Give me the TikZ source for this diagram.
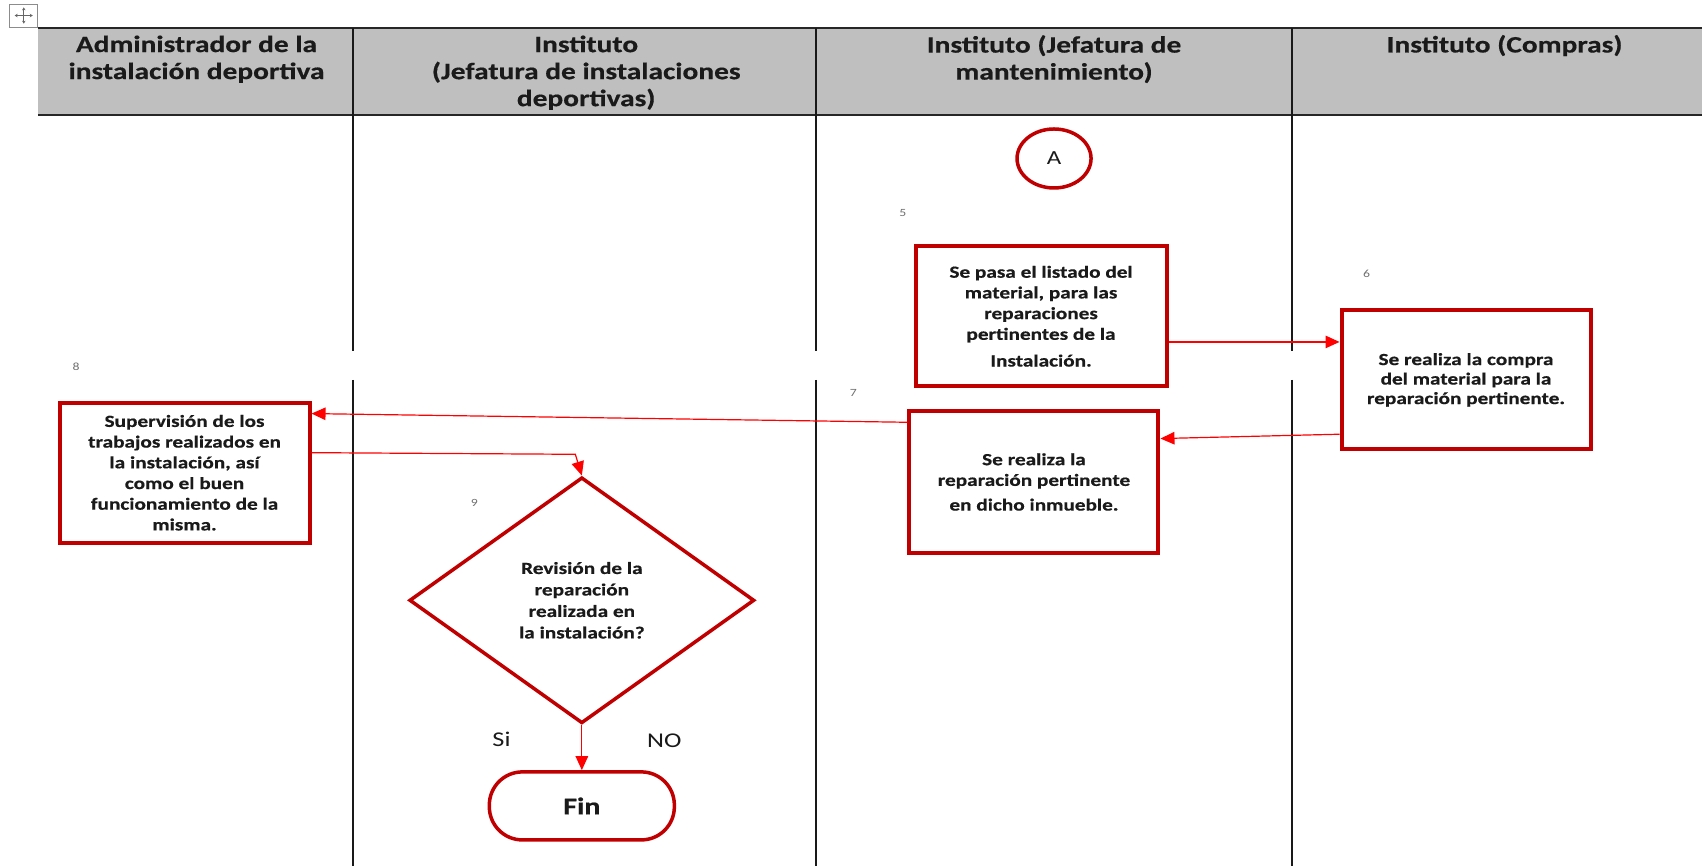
\documentclass[tikz,border=0pt]{standalone}
\usepackage{fontspec}
\setmainfont{Carlito}[FakeStretch=1.25,BoldFeatures={FakeBold=0.5}]
\usetikzlibrary{arrows.meta,shapes.geometric}
\definecolor{boxred}{HTML}{C00000}
\definecolor{arrred}{HTML}{FF0000}
\definecolor{hdrgray}{HTML}{BFBFBF}
\definecolor{txt}{HTML}{1A1A1A}
\definecolor{numgray}{HTML}{707070}
\begin{document}
\begin{tikzpicture}[x=1.0855pt,y=-1.0855pt,
  stepbox/.style={draw=boxred,line width=4pt,fill=white,inner sep=0pt,align=center,
    font=\fontsize{17}{20.7}\selectfont\bfseries,text=txt},
  hdr/.style={align=center,font=\fontsize{23.5}{27}\selectfont\bfseries,text=txt,inner sep=0pt},
  num/.style={font=\fontsize{11}{13}\selectfont,text=numgray,inner sep=0pt},
  plain/.style={font=\fontsize{21}{25}\selectfont,text=txt,inner sep=0pt},
  arr/.style={draw=arrred,line width=1.2pt,-{Triangle[length=14pt,width=12.5pt]}},
  lane/.style={draw=black!90,line width=2.2pt},
  hline/.style={draw=black!85,line width=1.8pt},
]
\useasboundingbox (0,0) rectangle (1567.9,797.8);
% table handle icon
\draw[black!45,line width=1pt] (9.2,3.7) rectangle (34.5,24.9);
\draw[black!60,line width=1pt,{Stealth[length=3pt,width=3.5pt]}-{Stealth[length=3pt,width=3.5pt]}] (13.5,14.3) -- (30.2,14.3);
\draw[black!60,line width=1pt,{Stealth[length=3pt,width=3.5pt]}-{Stealth[length=3pt,width=3.5pt]}] (21.9,6.8) -- (21.9,21.8);
% header
\fill[hdrgray] (35,25.5) rectangle (1567.9,106);
\draw[hline] (35,25.5) -- (1567.9,25.5);
\draw[hline] (35,106) -- (1567.9,106);
% lanes
\foreach \xx in {325.5,751.7,1190}{
  \draw[lane] (\xx,25.5) -- (\xx,323);
  \draw[lane] (\xx,350) -- (\xx,797.8);
}
\node[hdr] (h1) at (181,54.5) {Administrador de la\\instalación deportiva};
\node[hdr] (h2) at (540,67) {Instituto\\(Jefatura de instalaciones\\deportivas)};
\node[hdr] (h3) at (971,54.5) {Instituto (Jefatura de\\mantenimiento)};
\node[hdr] (h4) at (1386,42) {Instituto (Compras)};
% connector A
\node[draw=boxred,line width=3.5pt,ellipse,minimum width=74pt,minimum height=59pt,inner sep=0pt,
  font=\fontsize{20}{24}\selectfont,text=txt] (A) at (971,146) {A};
% steps
\node[num] (n5) at (831.6,196.5) {5};
\node[stepbox,minimum width=251pt,minimum height=140pt] (b5) at (959,291.3)
  {Se pasa el listado del\\material, para las\\reparaciones\\pertinentes de la\\[6pt]Instalación.};
\node[num] (n6) at (1259,252) {6};
\node[stepbox,minimum width=249pt,minimum height=139pt,font=\fontsize{17}{19.5}\selectfont\bfseries] (b6) at (1350.5,350)
  {Se realiza la compra\\del material para la\\reparación pertinente.};
\node[num] (n7) at (786,362) {7};
\node[stepbox,minimum width=249pt,minimum height=141.5pt] (b7) at (952.5,444)
  {Se realiza la\\reparación pertinente\\[4pt]en dicho inmueble.};
\node[num] (n8) at (70,338) {8};
\node[stepbox,minimum width=250pt,minimum height=140.4pt] (b8) at (170,435.5)
  {Supervisión de los\\trabajos realizados en\\la instalación, así\\como el buen\\funcionamiento de la\\misma.};
\node[num] (n9) at (437,463) {9};
\node[draw=boxred,line width=3.5pt,diamond,minimum width=345pt,minimum height=246pt,inner sep=0pt,
  align=center,font=\fontsize{17}{21.5}\selectfont\bfseries,text=txt] (d) at (536,553)
  {Revisión de la\\reparación\\realizada en\\la instalación?};
\node[plain] (si) at (462,681) {Si};
\node[plain] (no) at (612,682) {NO};
\node[draw=boxred,line width=3.5pt,rounded corners=33pt,minimum width=185pt,minimum height=68pt,
  inner sep=0pt,font=\fontsize{24}{28}\selectfont\bfseries,text=txt] (fin) at (536,742.4) {Fin};
% connectors
\draw[arr] (b5.east |- 0,315) -- (b6.west |- 0,315);
\draw[arr] (b6.west |- 0,400) -- (b7.east |- 0,404);
\draw[arr] (b7.west |- 0,389) -- (b8.east |- 0,381);
\coordinate (k) at (530,418.5);
\draw[arr] (b8.east |- 0,417) -- (k) -- (d.north);
\draw[arr] (d.south) -- (fin.north);
\end{tikzpicture}
\end{document}
